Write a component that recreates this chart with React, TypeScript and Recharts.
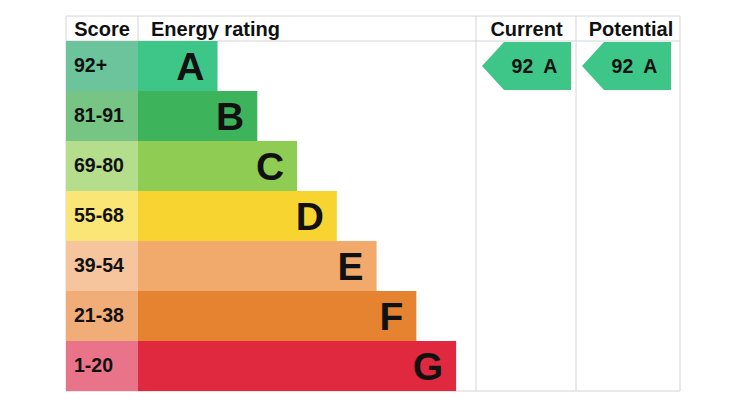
import React from "react";
import { Bar, BarChart, Customized, LabelList, XAxis, YAxis, Cell } from "recharts";

// EPC bands, top (best) to bottom
const ratings = ["A", "B", "C", "D", "E", "F", "G"];
const scores = ["92+", "81-91", "69-80", "55-68", "39-54", "21-38", "1-20"];
const barLength = [2, 3, 4, 5, 6, 7, 8];
const bandColors = ["#3ec689", "#3db45b", "#8fcc54", "#f8d431", "#f1aa6b", "#e58331", "#e0283f"];
const scoreColors = ["#6cc49d", "#76c585", "#b4dd8c", "#fae577", "#f6c59e", "#f0ad78", "#e97389"];

const currentScore = 92;
const currentRating = "A";
const potentialScore = 92;
const potentialRating = "A";

const data = ratings.map((r, i) => ({ rating: r, score: scores[i], len: barLength[i] }));

const FONT = "'Liberation Sans', Arial, sans-serif";
const GRID = "#d4d4d4";

// column edges
const COL_SCORE = 66;
const COL_BARS = 138;
const COL_CUR = 476;
const COL_POT = 576;
const COL_END = 680;
const TOP = 16;
const HEAD = 41;
const BOTTOM = 391;
const ROW = (BOTTOM - HEAD) / ratings.length;

function ScoreTick(props: any) {
  const { y, payload } = props;
  const i = ratings.indexOf(payload.value);
  return (
    <g>
      <rect x={COL_SCORE} y={y - ROW / 2} width={COL_BARS - COL_SCORE} height={ROW} fill={scoreColors[i]} />
      <text x={COL_SCORE + 8} y={y - 1.5} dominantBaseline="central" fontFamily={FONT} fontWeight="bold" fontSize={19.5} fill="#111">
        {scores[i]}
      </text>
    </g>
  );
}

function Arrow({ x, y, label }: { x: number; y: number; label: string }) {
  const h = 24;
  const left = x + 6;
  const right = x + 95;
  return (
    <g>
      <polygon
        points={`${left},${y} ${left + 22},${y - h} ${right},${y - h} ${right},${y + h} ${left + 22},${y + h}`}
        fill={bandColors[0]}
      />
      <text x={(left + right) / 2 + 8} y={y - 0.5} textAnchor="middle" dominantBaseline="central" fontFamily={FONT} fontWeight="bold" fontSize={19.5} fill="#111" style={{ whiteSpace: "pre" }}>
        {label}
      </text>
    </g>
  );
}

function RatingTick(props: any) {
  const { y, payload } = props;
  return (
    <g>
      {payload.value === currentRating && <Arrow x={COL_CUR} y={y} label={`${currentScore}  ${currentRating}`} />}
      {payload.value === potentialRating && <Arrow x={COL_POT} y={y} label={`${potentialScore}  ${potentialRating}`} />}
    </g>
  );
}

function LetterLabel(props: any) {
  const { x, y, width, height, value } = props;
  return (
    <text x={x + width - 13} y={y + height / 2} textAnchor="end" dominantBaseline="central" fontFamily={FONT} fontWeight="bold" fontSize={39} fill="#111">
      {value}
    </text>
  );
}

function Grid() {
  const head = { fontFamily: FONT, fontWeight: "bold" as const, fontSize: 20, fill: "#111" };
  return (
    <g>
      <line x1={COL_SCORE} x2={COL_END} y1={TOP} y2={TOP} stroke={GRID} />
      <line x1={COL_SCORE} x2={COL_END} y1={HEAD} y2={HEAD} stroke={GRID} />
      <line x1={COL_SCORE} x2={COL_END} y1={BOTTOM} y2={BOTTOM} stroke={GRID} />
      {[COL_SCORE, COL_BARS, COL_CUR, COL_POT, COL_END].map((x) => (
        <line key={x} x1={x} x2={x} y1={TOP} y2={BOTTOM} stroke={GRID} />
      ))}
      <text x={102} y={29} textAnchor="middle" dominantBaseline="central" {...head}>Score</text>
      <text x={151} y={29} dominantBaseline="central" {...head}>Energy rating</text>
      <text x={526.5} y={29} textAnchor="middle" dominantBaseline="central" {...head}>Current</text>
      <text x={631} y={29} textAnchor="middle" dominantBaseline="central" {...head}>Potential</text>
    </g>
  );
}

export default function App() {
  return (
    <div style={{ position: "absolute", left: 0, top: 0, width: 750, height: 417, background: "#fff" }}>
      <BarChart
        width={750}
        height={417}
        data={data}
        layout="vertical"
        barCategoryGap={0}
        margin={{ top: HEAD, bottom: 417 - BOTTOM, left: COL_SCORE, right: 750 - COL_END }}
      >
        <Customized component={<Grid />} />
        <XAxis type="number" hide domain={[0, 8.5]} />
        <YAxis
          yAxisId="left"
          type="category"
          dataKey="rating"
          width={COL_BARS - COL_SCORE}
          axisLine={false}
          tickLine={false}
          tick={<ScoreTick />}
          interval={0}
        />
        <YAxis
          yAxisId="right"
          orientation="right"
          type="category"
          dataKey="rating"
          width={COL_END - COL_CUR}
          axisLine={false}
          tickLine={false}
          tick={<RatingTick />}
          interval={0}
        />
        <Bar dataKey="len" yAxisId="left" isAnimationActive={false}>
          {data.map((d, i) => (
            <Cell key={d.rating} fill={bandColors[i]} />
          ))}
          <LabelList dataKey="rating" content={<LetterLabel />} />
        </Bar>
      </BarChart>
    </div>
  );
}
